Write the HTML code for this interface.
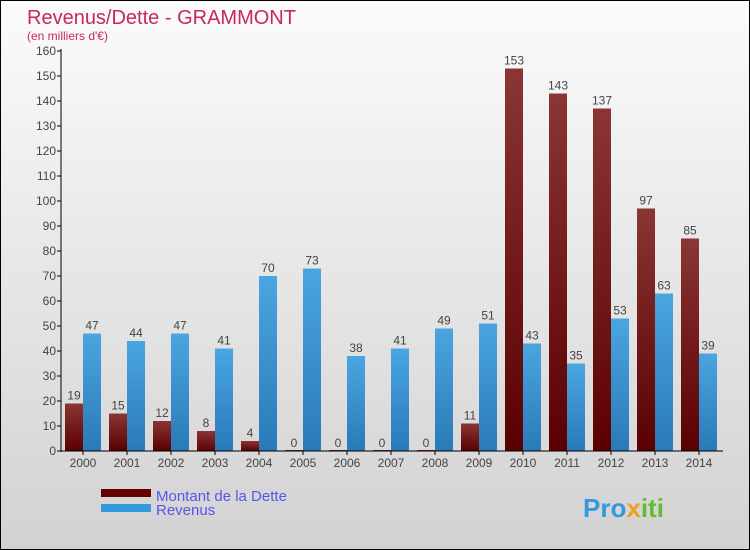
<!DOCTYPE html>
<html><head><meta charset="utf-8"><style>
body{margin:0}
#c{width:748px;height:548px;border:1px solid #000;background:linear-gradient(#fbfbfb,#d2d2d2);position:relative;font-family:"Liberation Sans",sans-serif}
</style></head><body>
<div id="c">
<svg id="s" width="748" height="548" style="position:absolute;left:0;top:0">
<defs>
<linearGradient id="gd" x1="0" y1="0" x2="0" y2="1"><stop offset="0" stop-color="#8b3535"/><stop offset="1" stop-color="#5a0000"/></linearGradient>
<linearGradient id="gr" x1="0" y1="0" x2="0" y2="1"><stop offset="0" stop-color="#4aa5e0"/><stop offset="1" stop-color="#2a7ab8"/></linearGradient>
</defs>
<text x="26" y="23" font-size="20" fill="#c8285a">Revenus/Dette - GRAMMONT</text>
<text x="26" y="39" font-size="12" fill="#c8285a">(en milliers d'€)</text>
<g id="g"></g>
<rect x="100" y="488" width="50" height="8" fill="#660000"/>
<rect x="100" y="503" width="50" height="8" fill="#3399dd"/>
<text x="155" y="500" font-size="15" fill="#5555ee">Montant de la Dette</text>
<text x="155" y="514" font-size="15" fill="#5555ee">Revenus</text>
<text x="582" y="516" font-size="26" font-weight="bold" fill="#3399dd">Pro<tspan fill="#f0a020">x</tspan><tspan fill="#66bb33">iti</tspan></text>
</svg></div>
<script>
const years=["2000","2001","2002","2003","2004","2005","2006","2007","2008","2009","2010","2011","2012","2013","2014"];
const dette=[19,15,12,8,4,0,0,0,0,11,153,143,137,97,85];
const revenus=[47,44,47,41,70,73,38,41,49,51,43,35,53,63,39];
const ticks=[0,10,20,30,40,50,60,70,80,90,100,110,120,130,140,150,160];
const ns="http://www.w3.org/2000/svg",g=document.getElementById('g');
const y=v=>450-v*2.5, xc=i=>82+i*44;
function mk(t,a){const e=document.createElementNS(ns,t);for(const k in a)e.setAttribute(k,a[k]);g.appendChild(e);return e;}
ticks.forEach(t=>{
 const l=mk('line',{x1:56,x2:60,y1:y(t),y2:y(t),stroke:'#000'});
 
 
 const tx=mk('text',{x:55,y:y(t)+4,'font-size':12,fill:'#444','text-anchor':'end'});tx.textContent=t;
 
 
});
years.forEach((yr,i)=>{
 const d=mk('rect',{x:xc(i)-18,y:y(dette[i])-(dette[i]?0:1),width:18,height:Math.max(dette[i]*2.5,1),fill:'url(#gd)'});
 
 
 const r=mk('rect',{x:xc(i),y:y(revenus[i]),width:18,height:revenus[i]*2.5,fill:'url(#gr)'});
 
 
 const t1=mk('text',{x:xc(i)-9,y:y(dette[i])-4,'font-size':12,fill:'#444','text-anchor':'middle'});t1.textContent=dette[i];
 
 
 const t2=mk('text',{x:xc(i)+9,y:y(revenus[i])-4,'font-size':12,fill:'#444','text-anchor':'middle'});t2.textContent=revenus[i];
 
 
 const tk=mk('line',{x1:xc(i),x2:xc(i),y1:450,y2:454,stroke:'#000'});
 
 
 const xl=mk('text',{x:xc(i),y:466,'font-size':12,fill:'#444','text-anchor':'middle'});xl.textContent=yr;
 
 
});
const ya=mk('line',{x1:60,x2:60,y1:48,y2:451,stroke:'#000'});


const xa=mk('line',{x1:60,x2:722,y1:450,y2:450,stroke:'#000'});


</script>
</body></html>
